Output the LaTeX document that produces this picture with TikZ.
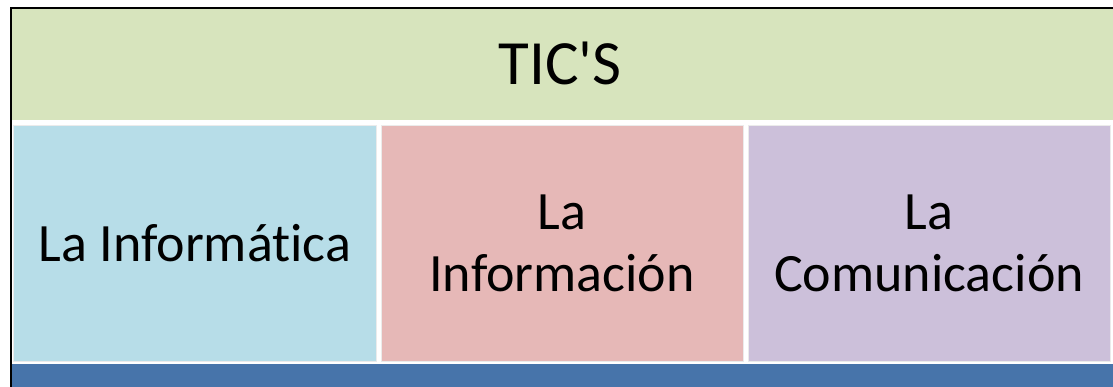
\documentclass[tikz,border=0pt]{standalone}
\usepackage{fontspec}
\setmainfont{Carlito}[Ligatures={NoCommon,TeXOff}]
\definecolor{topgreen}{HTML}{D7E4BD}
\definecolor{cellblue}{HTML}{B7DDE8}
\definecolor{cellred}{HTML}{E6B8B7}
\definecolor{cellpurple}{HTML}{CCC0DA}
\definecolor{bandblue}{HTML}{4774AA}
\tikzset{
  cell/.style={draw=white!92!black, line width=0.8pt, inner sep=0pt, outer sep=0pt},
  celltext/.style={font=\fontsize{54}{62}\selectfont, align=center, text=black, inner sep=0pt},
  titletext/.style={font=\fontsize{63}{70}\selectfont, text=black, inner sep=0pt}
}
\begin{document}
\begin{tikzpicture}[x=1pt,y=-1pt]
\useasboundingbox (0,0) rectangle (1113,387);
\fill[white] (0,0) rectangle (1113,387);
% bands and cells
\fill[topgreen] (12,9) rectangle (1113,120);
\filldraw[cell, fill=cellblue] (13,125) rectangle (376,361);
\filldraw[cell, fill=cellred] (381,125) rectangle (743,361);
\filldraw[cell, fill=cellpurple] (748,125) rectangle (1110,361);
\fill[bandblue] (12,364) rectangle (1113,387);
% border
\draw[black, line width=2.6pt] (11,387) -- (11,8) -- (1113,8);
% texts
\node[titletext] (tics) at (560,63) {TIC'S};
\node[celltext] (informatica) at (195,243) {La Informática};
\node[celltext] (informacion) at (562,243) {La\\Información};
\node[celltext] (comunicacion) at (929,243) {La\\Comunicación};
\end{tikzpicture}
\end{document}
